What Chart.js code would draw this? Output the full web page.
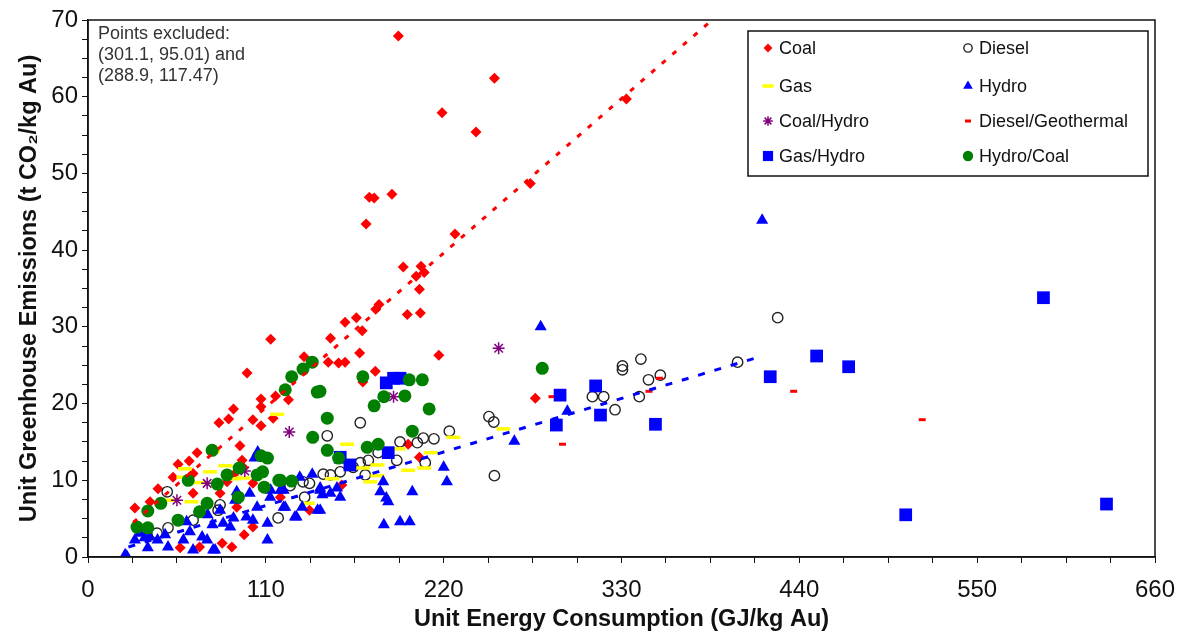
<!DOCTYPE html>
<html lang="en">
<head>
<meta charset="UTF-8" />
<title>Unit Greenhouse Emissions vs Unit Energy Consumption</title>
<script src="https://cdn.jsdelivr.net/npm/chart.js"></script>
<style>
    body { margin: 0; background: #fff; }
    #wrap { width: 1183px; height: 634px; }
</style>
</head>
<body>
<div id="wrap"><canvas id="chart" width="1183" height="634"></canvas></div>
<script>
// values: [GJ/kg Au, t CO2/kg Au]
const coal = [[192,67.9],[251.4,62.4],[333,59.7],[219,57.9],[240,55.4],[174,46.9],[177,46.8],[188,47.3],[172,43.4],[227,42.1],[273.6,48.7],[195,37.8],[206,37.9],[208,37.1],[203,36.6],[205,34.9],[180,32.9],[178,32.3],[197.5,31.6],[205.6,31.8],[166,31.2],[159,30.6],[169.6,29.5],[150,28.5],[113,28.4],[133.7,26.1],[168,26.6],[148.6,25.4],[155,25.3],[159,25.4],[177.7,24.2],[217,26.3],[98.4,24.0],[170,22.8],[276.7,20.7],[107,20.6],[116,21.0],[124,20.5],[107,19.6],[90,19.3],[87,18.0],[81,17.5],[102,17.9],[107,17.1],[114.5,18.1],[94,14.5],[67.5,13.6],[62.6,12.5],[55.7,12.1],[52.6,10.4],[65,10.9],[95.3,12.6],[96,11.7],[90,10.7],[102,9.6],[86,9.8],[81.7,8.3],[65,8.3],[43.3,8.9],[38.4,7.2],[29,6.4],[92,6.5],[96.6,2.9],[83,1.8],[89,1.3],[57,1.2],[69,1.3],[102,3.9],[119,7.8],[137,6.1],[198,14.7],[205,13.0],[157,9.4]];
const diesel = [[49,8.5],[49.5,3.8],[42.7,3.1],[65,4.8],[81.7,6.8],[80.5,6.1],[117.6,5.1],[134,7.8],[125,9.3],[148,15.8],[168.4,17.5],[193,15.0],[203.7,14.9],[207.4,15.5],[214,15.4],[223.5,16.4],[208.6,12.3],[191,12.6],[171.5,10.7],[179.5,13.6],[173.4,12.6],[168.4,12.3],[164,11.7],[156,11.1],[150,10.7],[145.5,10.8],[133,9.8],[137,9.6],[248,18.3],[251,17.6],[251.4,10.6],[330.6,24.9],[330.6,24.4],[342,25.8],[346.7,23.1],[354,23.7],[312,20.9],[319,20.9],[326,19.2],[341,20.9],[401.8,25.4],[426.6,31.2]];
const gas = [[77.4,13.8],[85,11.9],[75.5,11.1],[90,10.2],[68,9.7],[60,11.5],[59,10.4],[64,7.2],[51,7.4],[117,18.6],[96,10.3],[136,7.0],[160.3,14.7],[151,10.2],[174.6,9.8],[179,10.6],[179,12.0],[170,11.6],[192,14.1],[198,11.3],[208,11.6],[212,13.6],[226,15.6],[257,16.7]];
const hydro = [[417,43.9],[280,30.0],[296.5,19.0],[263.7,15.1],[220,11.7],[222,9.8],[200.6,8.5],[183,4.2],[193,4.6],[199,4.6],[182.6,9.8],[180.8,8.5],[184.5,7.7],[185.7,7.2],[143.6,8.7],[145,8.1],[150,8.3],[154,9.0],[156,7.8],[131,10.4],[138.7,10.8],[119,8.7],[122,6.5],[128,5.2],[132.5,6.5],[143.6,6.1],[105,13.7],[103,12.9],[92,8.5],[100,8.3],[113,8.7],[121,8.7],[143.6,9.0],[81.7,6.1],[90,5.1],[102,4.8],[111,4.4],[121,6.5],[129,5.2],[142,6.1],[111,2.2],[77,4.2],[73.7,2.2],[78.6,0.9],[91,7.4],[69.3,5.7],[23,0.3],[29,2.2],[35,2.5],[37,1.2],[43,2.2],[47.7,2.9],[59,2.2],[63,3.3],[65,0.9],[70.6,2.6],[77.4,0.9],[83.6,4.4],[88,3.9],[74,5.5],[61,4.6],[98,5.2],[104.6,6.5],[112.7,7.8],[32,3.1],[49.5,1.3],[38,2.6],[24,0.1]];
const coalHydro = [[254,27.2],[124.5,16.3],[189,20.9],[55,7.4],[73.7,9.6],[97,11.2]];
const dieselGeo = [[287,20.9],[293.5,14.7],[347,21.6],[353.5,23.3],[436.5,21.6],[516,17.9]];
const gasHydro = [[591,33.8],[450.7,26.2],[470.5,24.8],[422,23.5],[505.8,5.5],[630,6.9],[292,21.1],[289.7,17.2],[314,22.3],[317,18.5],[351,17.3],[184.5,22.7],[189,23.3],[193,23.3],[185.7,13.6],[156,13.0],[162,12.0]];
const hydroCoal = [[138.7,25.4],[133,24.5],[126,23.5],[122,21.8],[141.8,21.5],[143.5,21.6],[170,23.5],[198.7,23.1],[206.8,23.1],[183,20.9],[196,21.0],[177,19.7],[211,19.3],[148,18.1],[200.6,16.4],[139,15.6],[148,13.9],[155,12.9],[172.7,14.3],[179.5,14.7],[119,10.0],[126,9.9],[281,24.6],[76.8,13.9],[107,13.2],[111,12.9],[93.5,11.6],[86,10.7],[62,10.0],[80,9.5],[104.6,10.7],[108,11.1],[109,9.1],[118,10.0],[45,7.0],[37,6.0],[30.3,3.9],[37,3.8],[55.7,4.8],[69,5.9],[73.7,7.0],[93,7.8]];

// trend lines, end points
const coalTrend = [[28, 4.5], [386, 70]];
const dieselTrend = [[25, 1.3], [417, 26.2]];

const xLabels = [0, 110, 220, 330, 440, 550, 660];
const yLabels = [0, 10, 20, 30, 40, 50, 60, 70];
const excludedNote = ['Points excluded:', '(301.1, 95.01) and', '(288.9, 117.47)'];

const FONT = '"Liberation Sans", Arial, sans-serif';
const toXY = arr => arr.map(p => ({ x: p[0], y: p[1] }));

const series = [
    { label: 'Coal', data: coal, pointStyle: 'rectRot', radius: 5.5, bg: '#ff0000', border: '#ff0000', bw: 0 },
    { label: 'Diesel', data: diesel, pointStyle: 'circle', radius: 5.2, bg: 'rgba(0,0,0,0)', border: '#222', bw: 1.4 },
    { label: 'Gas', data: gas, pointStyle: 'line', radius: 7, bg: '#ffff00', border: '#ffff00', bw: 3.5 },
    { label: 'Hydro', data: hydro, pointStyle: 'triangle', radius: 7, bg: '#0000ff', border: '#0000ff', bw: 0 },
    { label: 'Coal/Hydro', data: coalHydro, pointStyle: 'star', radius: 6, bg: '#800080', border: '#800080', bw: 1.5 },
    { label: 'Diesel/Geothermal', data: dieselGeo, pointStyle: 'line', radius: 3.5, bg: '#ff0000', border: '#ff0000', bw: 3 },
    { label: 'Gas/Hydro', data: gasHydro, pointStyle: 'rect', radius: 9, bg: '#0000ff', border: '#0000ff', bw: 0 },
    { label: 'Hydro/Coal', data: hydroCoal, pointStyle: 'circle', radius: 6.5, bg: '#008000', border: '#008000', bw: 0 }
];

const datasets = series.map((s, i) => ({
    label: s.label,
    data: toXY(s.data),
    pointStyle: s.pointStyle,
    pointRadius: s.radius,
    pointBackgroundColor: s.bg,
    pointBorderColor: s.border,
    pointBorderWidth: s.bw,
    showLine: false,
    order: 20 - i
}));

datasets.push({
    label: 'coal trend', data: toXY(coalTrend), showLine: true, pointRadius: 0,
    borderColor: '#ff0000', borderWidth: 3, borderDash: [5, 9], order: 1
});
datasets.push({
    label: 'diesel trend', data: toXY(dieselTrend), showLine: true, pointRadius: 0,
    borderColor: '#0000ff', borderWidth: 3, borderDash: [7, 10], order: 1
});

const frame = {
    id: 'frame',
    afterDraw(chart) {
        const { ctx, chartArea: a } = chart;
        ctx.save();
        ctx.strokeStyle = '#111';
        ctx.lineWidth = 1.5;
        ctx.strokeRect(a.left, a.top, a.right - a.left, a.bottom - a.top);

        // note in the top-left corner
        ctx.fillStyle = '#333';
        ctx.font = '18px ' + FONT;
        ctx.textBaseline = 'middle';
        excludedNote.forEach((t, i) => ctx.fillText(t, a.left + 10, a.top + 14 + i * 21));

        // two-column boxed legend
        const bx = 748, by = 31, bw = 400, bh = 145;
        ctx.fillStyle = '#fff';
        ctx.fillRect(bx, by, bw, bh);
        ctx.strokeStyle = '#111';
        ctx.lineWidth = 1.5;
        ctx.strokeRect(bx, by, bw, bh);
        const rows = [17, 55, 90, 125];
        ctx.font = '18px ' + FONT;
        series.forEach((s, i) => {
            const col = i % 2, row = Math.floor(i / 2);
            const mx = bx + 20 + col * 200, my = by + rows[row];
            ctx.fillStyle = s.bg;
            ctx.strokeStyle = s.border;
            ctx.lineWidth = s.bw;
            Chart.helpers.drawPoint(ctx, {
                pointStyle: s.pointStyle, radius: Math.max(3, s.radius * 0.8), borderWidth: s.bw, rotation: 0
            }, mx, my);
            ctx.fillStyle = '#111';
            ctx.fillText(s.label, mx + 11, my + 1);
        });
        ctx.restore();
    }
};

new Chart(document.getElementById('chart'), {
    type: 'scatter',
    data: { datasets },
    options: {
        responsive: false,
        animation: false,
        layout: { padding: { top: 20, right: 28, left: 0, bottom: 0 } },
        plugins: { legend: { display: false }, tooltip: { enabled: false } },
        scales: {
            x: {
                type: 'linear', min: 0, max: 660,
                afterFit: s => { s.height = 77; s.paddingRight = 0; s.paddingLeft = 0; },
                border: { color: '#111', width: 1.5 },
                grid: { drawOnChartArea: false, drawTicks: true, tickLength: 6, color: '#111', tickColor: '#111' },
                ticks: {
                    stepSize: 27.5, autoSkip: false, maxRotation: 0, padding: 13, color: '#111',
                    font: { size: 24, family: FONT },
                    callback: v => xLabels.includes(v) ? v : ''
                },
                title: {
                    display: true, text: 'Unit Energy Consumption (GJ/kg Au)', color: '#111',
                    font: { size: 23.5, weight: 'bold', family: FONT },
                    padding: { top: 0, bottom: 0 }
                }
            },
            y: {
                type: 'linear', min: 0, max: 70,
                afterFit: s => { s.width = 88; },
                border: { color: '#111', width: 1.5 },
                grid: { drawOnChartArea: false, drawTicks: true, tickLength: 6, color: '#111', tickColor: '#111' },
                ticks: {
                    stepSize: 2.5, autoSkip: false, padding: 4, color: '#111',
                    font: { size: 24, family: FONT },
                    callback: v => yLabels.includes(v) ? v : ''
                },
                title: {
                    display: true, text: 'Unit Greenhouse Emissions (t CO₂/kg Au)', color: '#111',
                    font: { size: 23.5, weight: 'bold', family: FONT },
                    padding: { top: 15, bottom: 0 }
                }
            }
        }
    },
    plugins: [frame]
});
</script>
</body>
</html>
